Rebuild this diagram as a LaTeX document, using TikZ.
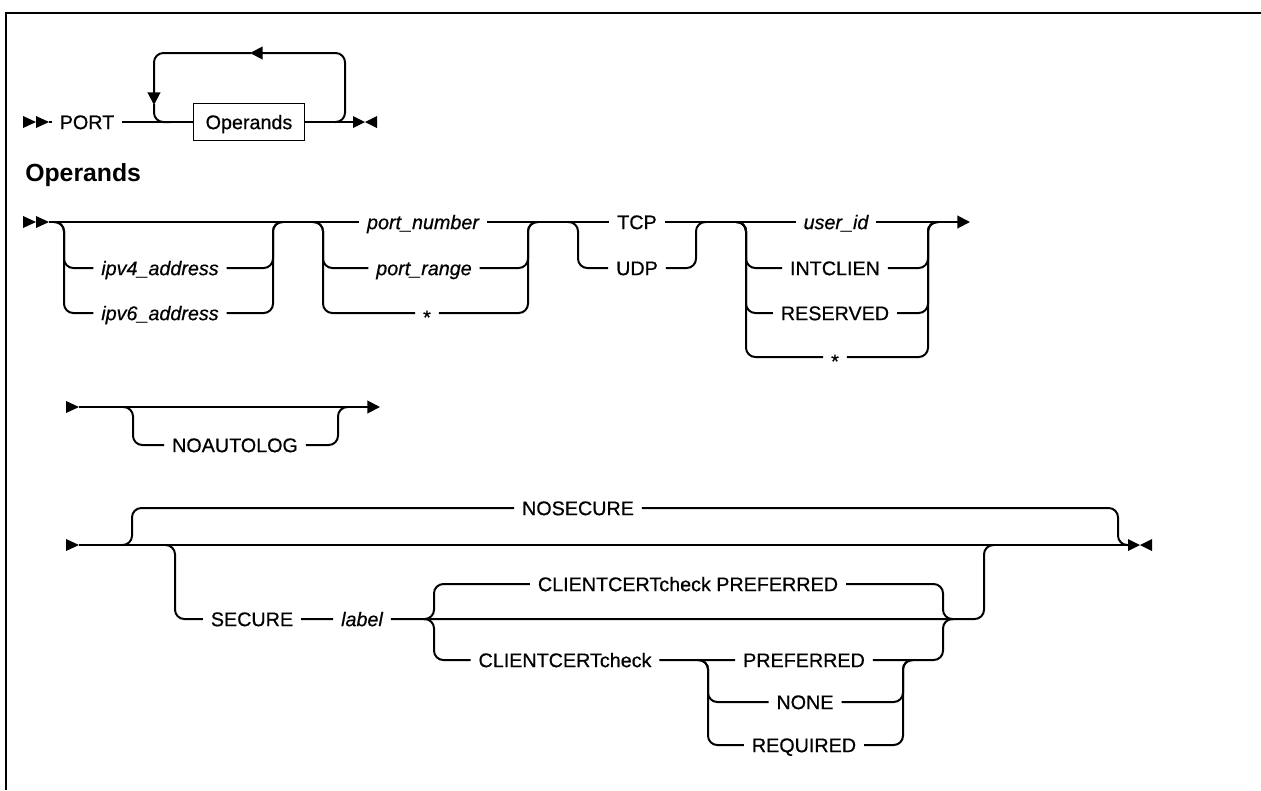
\documentclass[tikz,border=0pt]{standalone}
\usepackage{fontspec}
\setmainfont{Liberation Sans}
\newfontfamily\rrface{Liberation Sans}[FakeBold=0.6]
\usetikzlibrary{arrows.meta}

\newcommand\rrfont{\rrface\fontsize{14.8}{17}\selectfont}

\tikzset{RRTrack/.style={line width=1.5pt,rounded corners=7pt},
         RRWord/.style={inner xsep=6pt,inner ysep=0pt,outer sep=0pt,
           text height=10.7pt,text depth=0pt,font=\rrfont},
         RRVar/.style={RRWord,font=\rrfont\itshape},
         RRTip/.style={-{Triangle[length=9.5pt,width=9.5pt]}},
         RRStart/.pic={\fill (0,-6) -- (13,0) -- (0,6) -- cycle
                            (13,-6) -- (26,0) -- (13,6) -- cycle;},
         RRGo/.pic={\fill (0,-6) -- (13,0) -- (0,6) -- cycle;},
         RRStop/.pic={\fill (0,-6) -- (12,0) -- (0,6) -- cycle
                           (24,-6) -- (12,0) -- (24,6) -- cycle;}}

\begin{document}
\begin{tikzpicture}[x=.75pt,y=-.75pt]
  \useasboundingbox (0,0) rectangle (1261,790);
  % frame: only its top and left edges are in view
  \draw[line width=2.2pt] (6,790) -- (6,13) -- (1261,13);

  % PORT statement with its repeat loop
  \pic at (23,122) {RRStart};
  \coordinate (s1) at (49,122);
  \coordinate (e1) at (353,122);
  \coordinate (loopL) at (154,122);
  \coordinate (loopR) at (345,122);
  \node[RRWord] (port) at (87,122) {PORT};
  \node[RRWord,draw,line width=1pt,minimum width=83pt,minimum height=28pt]
    (opbox) at (249,122) {Operands};
  \draw[RRTrack] (s1) -- (port) -- (opbox) -- (e1);
  \pic at (e1) {RRStop};
  \draw[RRTrack,RRTip] ([xshift=-7.5pt]loopR) -- (loopR) |- (250,53);
  \draw[RRTrack,RRTip] (251,53) -| (154,105);
  \draw[RRTrack] (154,104) |- ([xshift=12pt]loopL);

  \node[anchor=west,inner sep=0pt,font=\fontsize{18.6}{22}\selectfont\bfseries]
    (ophead) at (25,175) {Operands};

  % operands, first line
  \pic at (23,222) {RRStart};
  \coordinate (s2) at (49,222);
  \coordinate (e2) at (970,222);
  \node[RRVar] (portnum) at (423,222) {port\_number};
  \node[RRWord] (tcp) at (637,222) {TCP};
  \node[RRVar] (userid) at (836,222) {user\_id};
  \draw[RRTrack] (s2) -- (portnum) -- (tcp) -- (userid);
  \draw[RRTrack,RRTip] (userid) -- (e2);

  \coordinate (ipL) at (64,222);
  \coordinate (ipR) at (273,222);
  \node[RRVar] (ipv4) at (160,268) {ipv4\_address};
  \node[RRVar] (ipv6) at (160,313) {ipv6\_address};
  \foreach \n in {ipv4,ipv6}
    \draw[RRTrack] ([xshift=-7.5pt]ipL) -- (ipL) |- (\n) -| (ipR) -- ([xshift=7.5pt]ipR);

  \coordinate (pnL) at (323,222);
  \coordinate (pnR) at (528,222);
  \node[RRVar] (prange) at (424,268) {port\_range};
  \node[RRWord] (pstar) at (427,313) {\raisebox{-3pt}{*}};
  \foreach \n in {prange,pstar}
    \draw[RRTrack] ([xshift=-7.5pt]pnL) -- (pnL) |- (\n) -| (pnR) -- ([xshift=7.5pt]pnR);

  \coordinate (prL) at (578,222);
  \coordinate (prR) at (696,222);
  \node[RRWord] (udp) at (637,268) {UDP};
  \draw[RRTrack] ([xshift=-7.5pt]prL) -- (prL) |- (udp) -| (prR) -- ([xshift=7.5pt]prR);

  \coordinate (usL) at (746,222);
  \coordinate (usR) at (928,222);
  \node[RRWord] (intc) at (835,268) {INTCLIEN};
  \node[RRWord] (resv) at (835,313) {RESERVED};
  \node[RRWord] (ustar) at (835,357) {\raisebox{-3pt}{*}};
  \foreach \n in {intc,resv,ustar}
    \draw[RRTrack] ([xshift=-7.5pt]usL) -- (usL) |- (\n) -| (usR) -- ([xshift=7.5pt]usR);

  % operands, second line
  \pic at (66,407) {RRGo};
  \coordinate (s3) at (79,407);
  \coordinate (e3) at (380,407);
  \coordinate (alL) at (133,407);
  \coordinate (alR) at (338,407);
  \node[RRWord] (noauto) at (235,445) {NOAUTOLOG};
  \draw[RRTrack,RRTip] (s3) -- (e3);
  \draw[RRTrack] ([xshift=-7.5pt]alL) -- (alL) |- (noauto) -| (alR) -- ([xshift=7.5pt]alR);

  % operands, third line
  \pic at (66,545) {RRGo};
  \coordinate (s4) at (79,545);
  \coordinate (e4) at (1128,545);
  \draw[RRTrack] (s4) -- (e4);
  \pic at (e4) {RRStop};

  \coordinate (nsL) at (132,545);
  \coordinate (nsR) at (1118,545);
  \node[RRWord] (nosec) at (578,508) {NOSECURE};
  \draw[RRTrack] ([xshift=-7.5pt]nsL) -- (nsL) |- (nosec) -| (nsR) -- ([xshift=7.5pt]nsR);

  \coordinate (seL) at (175,545);
  \coordinate (seR) at (984,545);
  \coordinate (ccL) at (434,619);
  \coordinate (ccR) at (943,619);
  \node[RRWord] (secure) at (252,619) {SECURE};
  \node[RRVar] (label) at (362,619) {label};
  \draw[RRTrack] ([xshift=-7.5pt]seL) -- (seL) |- (secure) -- (label) -- (ccL)
    -- (ccR) -| (seR) -- ([xshift=7.5pt]seR);

  \node[RRWord] (ccpref) at (688,584) {CLIENTCERTcheck PREFERRED\hspace{10pt}};
  \draw[RRTrack] ([xshift=-7.5pt]ccL) -- (ccL) |- (ccpref) -| (ccR) -- ([xshift=7.5pt]ccR);

  \coordinate (pvL) at (708,660);
  \coordinate (pvR) at (903,660);
  \node[RRWord] (cccheck) at (565,660) {CLIENTCERTcheck\hspace{7pt}};
  \node[RRWord] (pref) at (804,660) {PREFERRED};
  \node[RRWord] (none) at (805,702) {NONE};
  \node[RRWord] (reqd) at (804,745) {REQUIRED};
  \draw[RRTrack] ([xshift=-7.5pt]ccL) -- (ccL) |- (cccheck) -- (pref) -| (ccR)
    -- ([xshift=7.5pt]ccR);
  \foreach \n in {none,reqd}
    \draw[RRTrack] ([xshift=-7.5pt]pvL) -- (pvL) |- (\n) -| (pvR) -- ([xshift=7.5pt]pvR);
\end{tikzpicture}
\end{document}
